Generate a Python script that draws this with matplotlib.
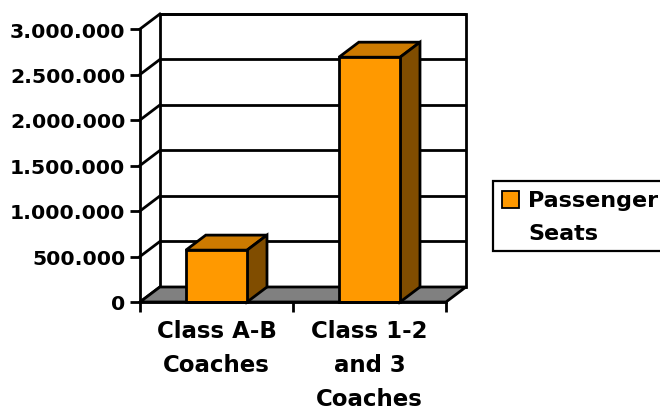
"""
Passenger seats by coach class, drawn as an Excel-style 3D column chart
"""

### Import modules
import numpy as np
import matplotlib
matplotlib.use('Agg')
import matplotlib.pyplot as plt
from matplotlib.patches import Polygon, Rectangle

### Data
categories = ['Class A-B\nCoaches', 'Class 1-2\nand 3\nCoaches']
seats = [570000, 2690000]
series_name = 'Passenger\nSeats'
yticks = np.arange(0, 3000001, 500000)
ymax = 3000000

### Colours of the column faces
front_col = '#FF9900'
top_col = '#CC7A00'
side_col = '#804D00'
floor_col = '#808080'

plt.rcParams['font.family'] = ['DejaVu Sans']
plt.rcParams['font.weight'] = 'bold'

fig = plt.figure(figsize=(6.6, 4.1), dpi=100)
W, H = 660., 410.
### Front plane of the plot box (pixels)
ax = fig.add_axes([140/W, 1 - 303/H, 306/W, 273/H])
ax.set_xlim(0, len(categories))
ax.set_ylim(0, ymax)
ax.set_facecolor('none')

### Depth of the box in data units
ddx = 0.13
ddy = 165000
lw = 2.0
xr_end = len(categories)

### Back wall with gridlines
back = Polygon([(ddx, ddy), (xr_end + ddx, ddy), (xr_end + ddx, ymax + ddy),
                (ddx, ymax + ddy)], closed=True, fc='white', ec='black',
               lw=lw, clip_on=False, zorder=1)
ax.add_patch(back)
for v in yticks:
    ax.plot([ddx, xr_end + ddx], [v + ddy, v + ddy], color='black', lw=lw,
            clip_on=False, zorder=1.5, solid_capstyle='butt')
    ax.plot([0, ddx], [v, v + ddy], color='black', lw=lw, clip_on=False,
            zorder=1.5)

### Floor
floor = Polygon([(0, 0), (xr_end, 0), (xr_end + ddx, ddy), (ddx, ddy)],
                closed=True, fc=floor_col, ec='black', lw=lw, clip_on=False,
                zorder=2)
ax.add_patch(floor)

### Columns: front face from ax.bar, then top and side faces
xpos = np.arange(len(categories)) + 0.5
width = 0.4
ax.bar(xpos, seats, width=width, color=front_col, edgecolor='black', lw=lw,
       zorder=4, clip_on=False)
for xc, v in zip(xpos, seats):
    xl, xr = xc - width / 2, xc + width / 2
    top = Polygon([(xl, v), (xr, v), (xr + ddx, v + ddy), (xl + ddx, v + ddy)],
                  closed=True, fc=top_col, ec='black', lw=lw, clip_on=False,
                  zorder=3, joinstyle='miter')
    side = Polygon([(xr, 0), (xr + ddx, ddy), (xr + ddx, v + ddy), (xr, v)],
                   closed=True, fc=side_col, ec='black', lw=lw, clip_on=False,
                   zorder=3, joinstyle='miter')
    ax.add_patch(top)
    ax.add_patch(side)

### Axes, ticks and labels
for s in ['top', 'right']:
    ax.spines[s].set_visible(False)
for s in ['left', 'bottom']:
    ax.spines[s].set_linewidth(lw)
    ax.spines[s].set_zorder(5)

ax.set_yticks(yticks)
ax.set_yticklabels(['{:,}'.format(int(v)).replace(',', '.') for v in yticks],
                   fontsize=14.7, fontweight='bold')
ax.tick_params(axis='y', length=7, width=lw, direction='out', pad=3.5)

ax.set_xticks(np.arange(len(categories) + 1))
ax.set_xticklabels([])
ax.set_xticks(xpos, minor=True)
ax.set_xticklabels(categories, minor=True, fontsize=16.5, fontweight='bold',
                   linespacing=1.62)
ax.tick_params(axis='x', which='major', length=7, width=lw, direction='out')
ax.tick_params(axis='x', which='minor', length=0, pad=12)

### Legend box
fig.patches.append(Rectangle((493/W, 1 - 252/H), 200/W, 70/H, fc='white',
                             ec='black', lw=1.6,
                             transform=fig.transFigure, figure=fig))
fig.patches.append(Rectangle((502/W, 1 - 209/H), 17/W, 17/H, fc=front_col,
                             ec='black', lw=1.3,
                             transform=fig.transFigure, figure=fig))
fig.text(528/W, 1 - 240/H, series_name, fontsize=16, fontweight='bold',
         va='baseline', ha='left', linespacing=1.82)

plt.savefig('out.png', dpi=100, facecolor='white')
